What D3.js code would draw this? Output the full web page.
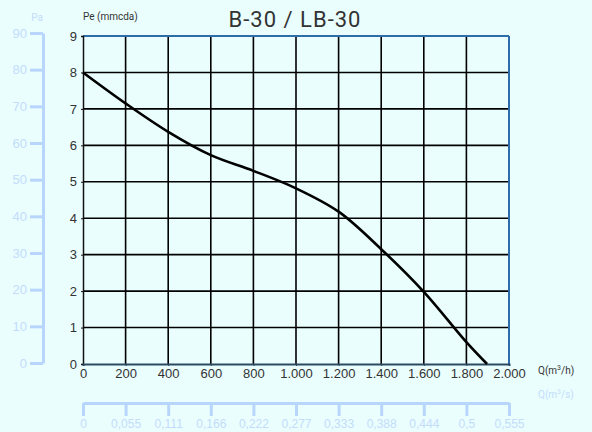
<!DOCTYPE html>
<html>
<head>
<meta charset="utf-8">
<script src="https://cdn.jsdelivr.net/npm/d3@7"></script>
<style>
  html, body { margin: 0; padding: 0; background: #eafefe; }
  svg { display: block; font-family: Roboto, "DejaVu Sans", sans-serif; }
</style>
</head>
<body>
<div id="chart"></div>
<script>
// Courbe Pe = f(Q)
const qValues  = [0, 200, 400, 600, 800, 1000, 1200, 1400, 1600, 1800, 1897];
const peValues = [8.0, 7.15, 6.37, 5.73, 5.3, 4.82, 4.18, 3.15, 1.98, 0.6, 0];

// Graduations
const qTicks = [0, 200, 400, 600, 800, 1000, 1200, 1400, 1600, 1800, 2000];
const qTickLabels = ["0", "200", "400", "600", "800", "1.000", "1.200", "1.400", "1.600", "1.800", "2.000"];
const qsTickLabels = ["0", "0,055", "0,111", "0,166", "0,222", "0,277", "0,333", "0,388", "0,444", "0,5", "0,555"];
const peTicks = [0, 1, 2, 3, 4, 5, 6, 7, 8, 9];
const paTicks = [0, 10, 20, 30, 40, 50, 60, 70, 80, 90];

const width = 592, height = 432;
const plot = { left: 83, right: 509, top: 36, bottom: 364 };
const paleBlue = "#b8d6fb";

const svg = d3.select("#chart").append("svg")
    .attr("width", width)
    .attr("height", height);

svg.append("rect").attr("width", width).attr("height", height).attr("fill", "#eafefe");

const x = d3.scaleLinear().domain([0, 2000]).range([plot.left, plot.right]);
const y = d3.scaleLinear().domain([0, 9]).range([plot.bottom, plot.top]);
const yPa = d3.scaleLinear().domain([0, 90]).range([363, 33]);

// Grille
svg.append("g")
    .selectAll("line")
    .data(qTicks.slice(1, -1))
    .join("line")
    .attr("x1", d => x(d)).attr("x2", d => x(d))
    .attr("y1", plot.top).attr("y2", plot.bottom)
    .attr("stroke", "#000").attr("stroke-width", 1.6);

svg.append("g")
    .selectAll("line")
    .data(peTicks.slice(1, -1))
    .join("line")
    .attr("x1", plot.left).attr("x2", plot.right)
    .attr("y1", d => y(d)).attr("y2", d => y(d))
    .attr("stroke", "#000").attr("stroke-width", 1.6);

// Bordures
svg.append("line")
    .attr("x1", plot.left).attr("x2", plot.right)
    .attr("y1", plot.top).attr("y2", plot.top)
    .attr("stroke", "#2d6eaa").attr("stroke-width", 2);
svg.append("line")
    .attr("x1", plot.right).attr("x2", plot.right)
    .attr("y1", plot.top).attr("y2", plot.bottom)
    .attr("stroke", "#2d6eaa").attr("stroke-width", 2);

// Axe Y principal
const yAxis = svg.append("g")
    .attr("transform", `translate(${plot.left},0)`)
    .call(d3.axisLeft(y).tickValues(peTicks).tickSize(2).tickPadding(4).tickFormat(d3.format("d")));
yAxis.select(".domain").attr("stroke", "#111").attr("stroke-width", 1.5);
yAxis.selectAll(".tick line").attr("stroke", "#111");
yAxis.selectAll("text").attr("font-size", 13).attr("fill", "#333");

// Axe X principal
const xAxis = svg.append("g")
    .attr("transform", `translate(0,${plot.bottom})`)
    .call(d3.axisBottom(x).tickValues(qTicks).tickSize(2).tickPadding(3)
        .tickFormat((d, i) => qTickLabels[i]));
xAxis.select(".domain").attr("stroke", "#2b4a62").attr("stroke-width", 2);
xAxis.selectAll(".tick line").attr("stroke", "#2b4a62");
xAxis.selectAll("text").attr("font-size", 13).attr("fill", "#333");

// Courbe
const line = d3.line()
    .x((d, i) => x(qValues[i]))
    .y(d => y(d))
    .curve(d3.curveCatmullRom.alpha(0.5));

svg.append("path")
    .datum(peValues)
    .attr("fill", "none")
    .attr("stroke", "#000")
    .attr("stroke-width", 2.6)
    .attr("d", line);

// Axe Pa (gauche, bleu clair)
const paAxis = svg.append("g")
    .attr("transform", "translate(43,0)")
    .call(d3.axisLeft(yPa).tickValues(paTicks).tickSize(13).tickSizeOuter(0).tickPadding(3));
paAxis.select(".domain").attr("stroke", paleBlue).attr("stroke-width", 3);
paAxis.selectAll(".tick line").attr("stroke", paleBlue).attr("stroke-width", 3);
paAxis.selectAll("text").attr("font-size", 13).attr("fill", "#c3dcfb");

// Axe m3/s (bas, bleu clair)
const qsAxis = svg.append("g")
    .attr("transform", "translate(0,403)")
    .call(d3.axisBottom(x).tickValues(qTicks).tickSize(13).tickSizeOuter(0).tickPadding(3)
        .tickFormat((d, i) => qsTickLabels[i]));
qsAxis.select(".domain").attr("stroke", paleBlue).attr("stroke-width", 3);
qsAxis.selectAll(".tick line").attr("stroke", paleBlue).attr("stroke-width", 3);
qsAxis.selectAll("text").attr("font-size", 12).attr("fill", "#c3dcfb");

// Textes
svg.append("text")
    .attr("x", 295).attr("y", 27)
    .attr("text-anchor", "middle")
    .attr("font-size", 22)
    .attr("letter-spacing", 1)
    .attr("fill", "#333")
    .text("B-30 / LB-30");

svg.append("text")
    .attr("x", 83).attr("y", 20)
    .attr("font-size", 10)
    .attr("fill", "#333")
    .text("Pe (mmcda)");

svg.append("text")
    .attr("x", 37).attr("y", 21)
    .attr("text-anchor", "middle")
    .attr("font-size", 10)
    .attr("fill", "#c3dcfb")
    .text("Pa");

const qh = svg.append("text")
    .attr("x", 538).attr("y", 374)
    .attr("font-size", 10)
    .attr("fill", "#333");
qh.append("tspan").text("Q(m");
qh.append("tspan").attr("font-size", 7).attr("dy", -4).text("3");
qh.append("tspan").attr("dy", 4).text("/h)");

const qs = svg.append("text")
    .attr("x", 538).attr("y", 398)
    .attr("font-size", 10)
    .attr("fill", "#c3dcfb");
qs.append("tspan").text("Q(m");
qs.append("tspan").attr("font-size", 7).attr("dy", -4).text("3");
qs.append("tspan").attr("dy", 4).text("/s)");
</script>
</body>
</html>
